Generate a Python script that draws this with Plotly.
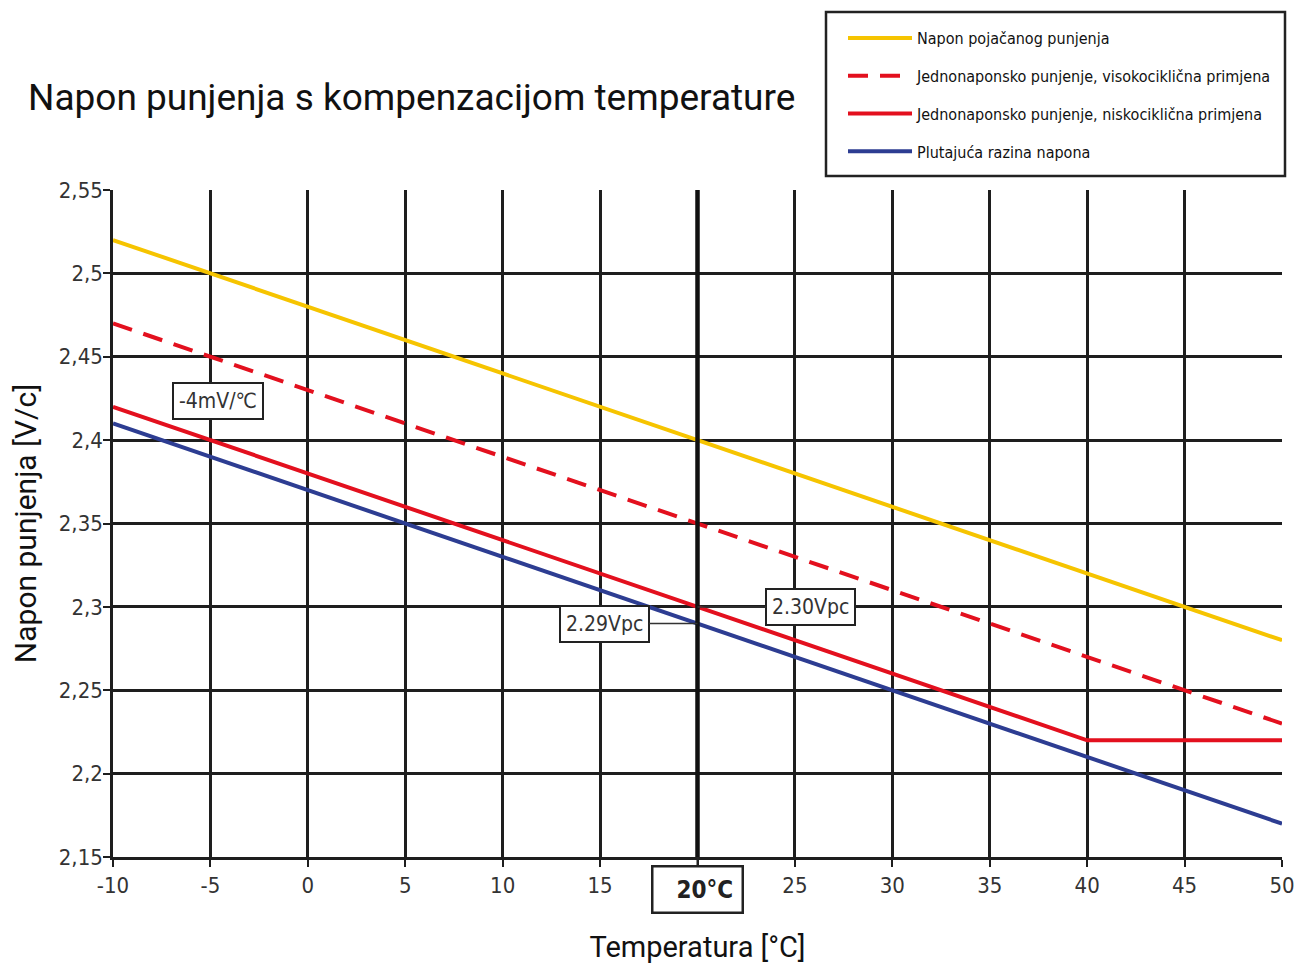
import plotly.graph_objects as go

temps = [-10, -5, 0, 5, 10, 15, 20, 25, 30, 35, 40, 45, 50]
boost = [2.52, 2.50, 2.48, 2.46, 2.44, 2.42, 2.40, 2.38, 2.36, 2.34, 2.32, 2.30, 2.28]
single_high = [2.47, 2.45, 2.43, 2.41, 2.39, 2.37, 2.35, 2.33, 2.31, 2.29, 2.27, 2.25, 2.23]
single_low = [2.42, 2.40, 2.38, 2.36, 2.34, 2.32, 2.30, 2.28, 2.26, 2.24, 2.22, 2.22, 2.22]
floating = [2.41, 2.39, 2.37, 2.35, 2.33, 2.31, 2.29, 2.27, 2.25, 2.23, 2.21, 2.19, 2.17]

names = ["Napon pojačanog punjenja",
         "Jednonaponsko punjenje, visokociklična primjena",
         "Jednonaponsko punjenje, niskociklična primjena",
         "Plutajuća razina napona"]

x_ticks = [-10, -5, 0, 5, 10, 15, 20, 25, 30, 35, 40, 45, 50]
x_ticktext = ["-10", "-5", "0", "5", "10", "15", "", "25", "30", "35", "40", "45", "50"]
y_ticks = [2.15, 2.2, 2.25, 2.3, 2.35, 2.4, 2.45, 2.5, 2.55]
y_ticktext = ["2,15", "2,2", "2,25", "2,3", "2,35", "2,4", "2,45", "2,5", "2,55"]

YELLOW = "#F6C400"
RED = "#E3101E"
BLUE = "#2D3D92"
GRID = "#1e1e1e"
NARROW = "Liberation Sans Narrow, Arial Narrow, DejaVu Sans Condensed, sans-serif"

W, H = 1287, 956  # page adds an 8px body margin
ML, MR, MT, MB = 105, 13, 182, 107
PW, PH = W - ML - MR, H - MT - MB

fig = go.Figure()
series = [(boost, YELLOW, "solid"), (single_high, RED, "20px,12px"),
          (single_low, RED, "solid"), (floating, BLUE, "solid")]
for i, (vals, col, dash) in enumerate(series):
    fig.add_trace(go.Scatter(x=temps, y=vals, mode="lines", name=names[i],
                             legendgroup=f"g{i}",
                             line=dict(color=col, width=4, dash=dash)))

# thick vertical line at 20 °C
fig.add_shape(type="line", xref="x", yref="paper", x0=20, x1=20, y0=0, y1=1,
              line=dict(color="#111", width=4.5), layer="above")

# legend frame
fig.add_shape(type="rect", xref="paper", yref="paper",
              x0=(818 - ML) / PW, x1=(1277 - ML) / PW,
              y0=(H - MB - 168) / PH, y1=(H - MB - 4) / PH,
              line=dict(color="#222", width=2.5), fillcolor="white", layer="above")

box_font = dict(family=NARROW, size=21, color="#333")
fig.add_annotation(x=-4.6, y=2.4235, xref="x", yref="y", text="-4mV/℃", showarrow=False,
                   font=box_font, bgcolor="white", bordercolor="#222", borderwidth=2, borderpad=5)
fig.add_annotation(x=20, y=2.29, xref="x", yref="y", text="2.29Vpc", showarrow=True,
                   arrowhead=0, arrowwidth=1.5, arrowcolor="#333", ax=-93, ay=0,
                   font=box_font, bgcolor="white", bordercolor="#222", borderwidth=2, borderpad=5)
fig.add_annotation(x=20, y=2.30, xref="x", yref="y", text="2.30Vpc", showarrow=True,
                   arrowhead=0, arrowwidth=1.5, arrowcolor="#333", ax=113, ay=0,
                   font=box_font, bgcolor="white", bordercolor="#222", borderwidth=2, borderpad=5)
fig.add_annotation(x=20, y=0, xref="x", yref="paper", text="<b>&nbsp;&nbsp;20°C</b>", showarrow=True,
                   arrowhead=0, arrowwidth=2, arrowcolor="#222", ax=0, ay=32,
                   font=dict(family=NARROW, size=24, color="#222"), bgcolor="white",
                   bordercolor="#222", borderwidth=2.5, borderpad=8)

fig.update_layout(
    width=W, height=H,
    margin=dict(l=ML, r=MR, t=MT, b=MB, autoexpand=False),
    paper_bgcolor="white", plot_bgcolor="white",
    title=dict(text="Napon punjenja s kompenzacijom temperature", x=20 / W, xref="container",
               xanchor="left", y=1 - 89 / H, yref="container", yanchor="middle",
               pad=dict(l=0, r=0, t=0, b=0),
               font=dict(family="Roboto, sans-serif", size=37, color="#111")),
    legend=dict(x=835 / W, y=1 - 13 / H, xref="container", yref="container",
                xanchor="left", yanchor="top", bgcolor="rgba(0,0,0,0)",
                borderwidth=0, tracegroupgap=14, itemwidth=64,
                font=dict(family=NARROW, size=16, color="#111")),
    showlegend=True,
)
fig.update_xaxes(range=[-10, 50], tickvals=x_ticks, ticktext=x_ticktext,
                 showgrid=True, gridcolor=GRID, gridwidth=2.5, zeroline=False,
                 showline=True, linecolor=GRID, linewidth=2.5,
                 ticks="outside", ticklen=7, tickwidth=2, tickcolor=GRID,
                 tickfont=dict(family=NARROW, size=22, color="#333"),
                 title=dict(text="Temperatura [°C]", standoff=55,
                            font=dict(family="Roboto, sans-serif", size=29, color="#111")))
fig.update_yaxes(range=[2.15, 2.55], tickvals=y_ticks, ticktext=y_ticktext,
                 showgrid=True, gridcolor=GRID, gridwidth=2.5, zeroline=False,
                 showline=True, linecolor=GRID, linewidth=2.5,
                 ticks="outside", ticklen=7, tickwidth=2, tickcolor=GRID,
                 ticklabelstandoff=-4,
                 tickfont=dict(family=NARROW, size=22, color="#333"),
                 title=dict(text="Napon punjenja [V/c]", standoff=22,
                            font=dict(family="Roboto, sans-serif", size=30, color="#111")))

fig.write_html("out.html")
